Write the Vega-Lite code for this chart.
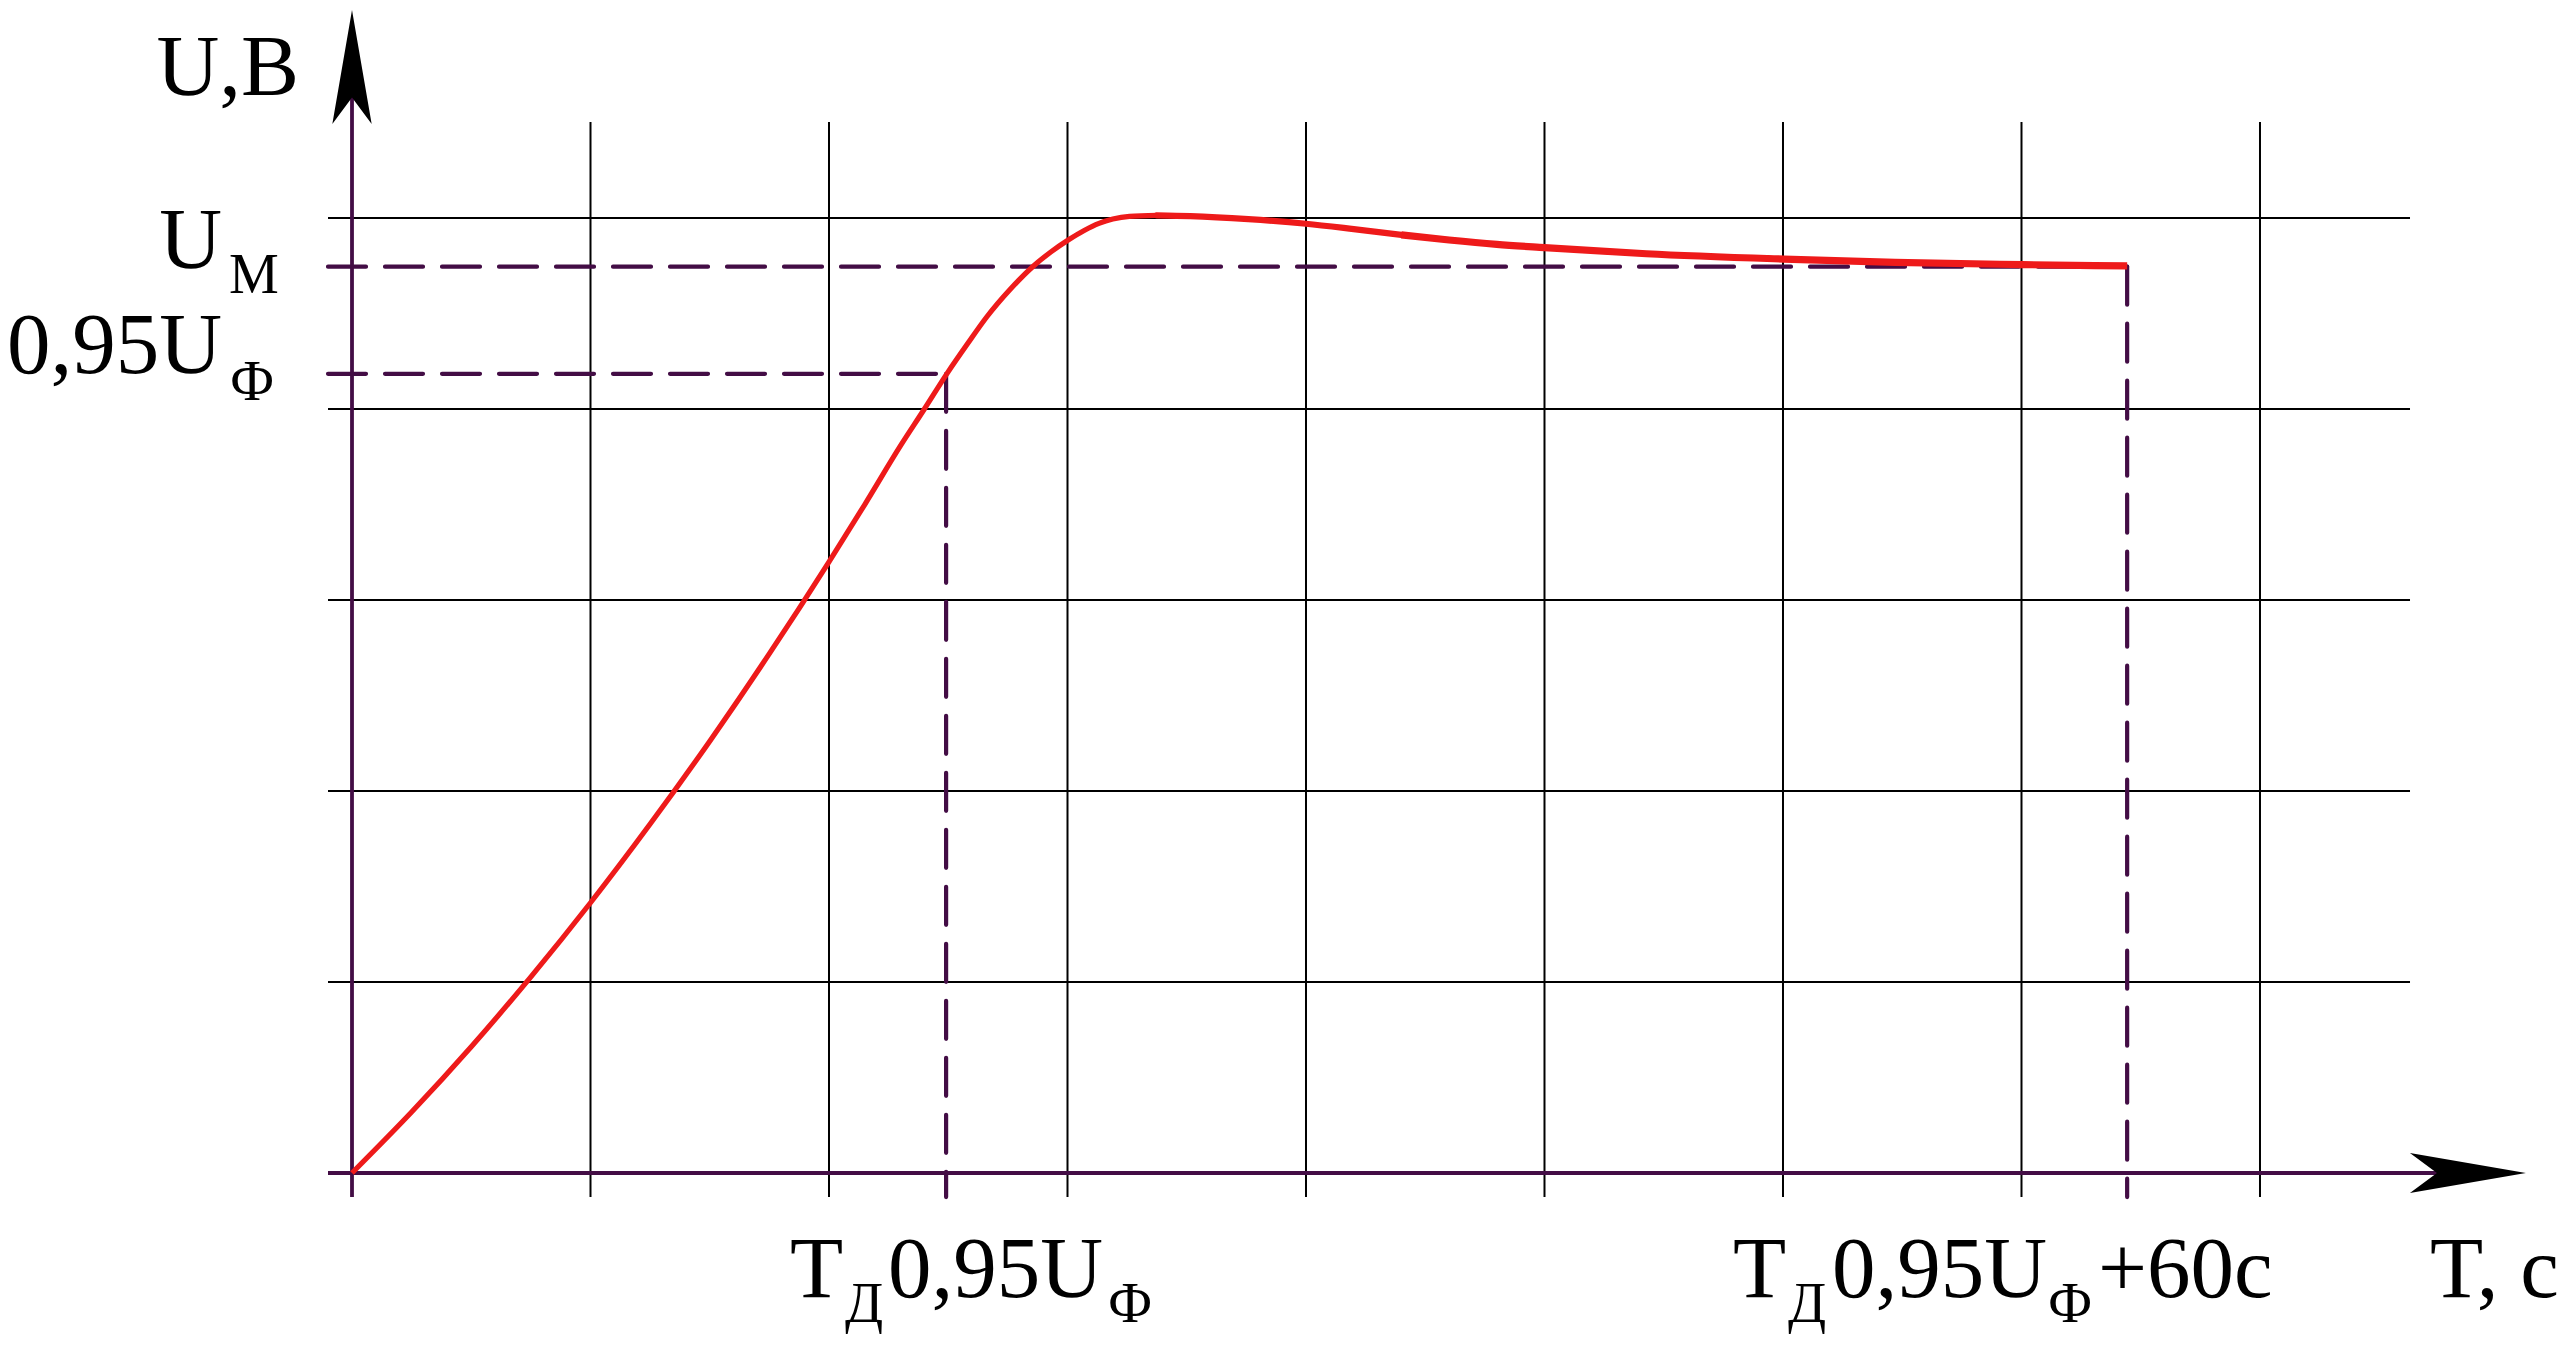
{
  "$schema": "https://vega.github.io/schema/vega-lite/v6.json",
  "width": 2560,
  "height": 1345,
  "autosize": {"type": "none"},
  "padding": 0,
  "background": "white",
  "config": {"view": {"stroke": null}},
  "datasets": {
    "curve": [
      {"x": 0, "y": 0}, {"x": 0.25, "y": 0.319}, {"x": 0.5, "y": 0.661}, {"x": 0.75, "y": 1.027},
      {"x": 1.0, "y": 1.415}, {"x": 1.25, "y": 1.827}, {"x": 1.5, "y": 2.261}, {"x": 1.75, "y": 2.719},
      {"x": 2.0, "y": 3.2}, {"x": 2.15, "y": 3.5}, {"x": 2.3, "y": 3.808}, {"x": 2.4, "y": 4.0},
      {"x": 2.494, "y": 4.184}, {"x": 2.58, "y": 4.34}, {"x": 2.662, "y": 4.483}, {"x": 2.76, "y": 4.627},
      {"x": 2.854, "y": 4.745}, {"x": 2.93, "y": 4.822}, {"x": 3.003, "y": 4.885}, {"x": 3.07, "y": 4.935},
      {"x": 3.132, "y": 4.972}, {"x": 3.19, "y": 4.995}, {"x": 3.26, "y": 5.009}, {"x": 3.375, "y": 5.014},
      {"x": 3.515, "y": 5.01}, {"x": 3.758, "y": 4.994}, {"x": 4.0, "y": 4.97}, {"x": 4.2, "y": 4.942},
      {"x": 4.4, "y": 4.912}, {"x": 4.6, "y": 4.885}, {"x": 4.8, "y": 4.862}, {"x": 5.0, "y": 4.845},
      {"x": 5.427, "y": 4.813}, {"x": 6.004, "y": 4.785}, {"x": 6.47, "y": 4.768}, {"x": 7.005, "y": 4.756},
      {"x": 7.443, "y": 4.749}
    ],
    "hgrid": [{"y": 1}, {"y": 2}, {"y": 3}, {"y": 4}, {"y": 5}],
    "vgrid": [{"x": 1}, {"x": 2}, {"x": 3}, {"x": 4}, {"x": 5}, {"x": 6}, {"x": 7}, {"x": 8}],
    "dash": [
      {"x": -0.1006, "x2": 7.443, "y": 4.745, "y2": 4.745},
      {"x": 7.443, "x2": 7.443, "y": 4.745, "y2": -0.126},
      {"x": -0.1006, "x2": 2.491, "y": 4.184, "y2": 4.184},
      {"x": 2.491, "x2": 2.491, "y": 4.184, "y2": -0.126}
    ],
    "axes": [
      {"x": -0.1006, "x2": 9.0, "y": 0, "y2": 0},
      {"x": 0, "x2": 0, "y": -0.126, "y2": 5.98}
    ],
    "ylabMain": [
      {"x": -0.222, "y": 5.644, "t": "U,В"},
      {"x": -0.545, "y": 4.738, "t": "U"},
      {"x": -0.545, "y": 4.188, "t": "0,95U"}
    ],
    "ylabSub": [
      {"x": -0.516, "y": 4.607, "t": "М"},
      {"x": -0.512, "y": 4.047, "t": "Ф"}
    ],
    "xlabMain": [
      {"x": 1.836, "y": -0.649, "t": "T"},
      {"x": 2.247, "y": -0.649, "t": "0,95U"},
      {"x": 5.79, "y": -0.649, "t": "T"},
      {"x": 6.205, "y": -0.649, "t": "0,95U"},
      {"x": 7.321, "y": -0.649, "t": "+60с"},
      {"x": 8.713, "y": -0.649, "t": "T, с"}
    ],
    "xlabSub": [
      {"x": 2.067, "y": -0.78, "t": "Д"},
      {"x": 3.17, "y": -0.78, "t": "Ф"},
      {"x": 6.021, "y": -0.78, "t": "Д"},
      {"x": 7.111, "y": -0.78, "t": "Ф"}
    ]
  },
  "layer": [
    {
      "data": {"name": "hgrid"},
      "mark": {"type": "rule", "color": "#000000", "strokeWidth": 2},
      "encoding": {
        "y": {"field": "y", "type": "quantitative", "axis": null, "scale": {"domain": [-0.9005, 6.1414], "nice": false, "zero": false}},
        "x": {"datum": -0.1006, "type": "quantitative", "axis": null, "scale": {"domain": [-1.4759, 9.2579], "nice": false, "zero": false}},
        "x2": {"datum": 8.629}
      }
    },
    {
      "data": {"name": "vgrid"},
      "mark": {"type": "rule", "color": "#000000", "strokeWidth": 2},
      "encoding": {
        "x": {"field": "x", "type": "quantitative", "axis": null},
        "y": {"datum": -0.126, "type": "quantitative", "axis": null},
        "y2": {"datum": 5.503}
      }
    },
    {
      "data": {"name": "dash"},
      "mark": {"type": "rule", "color": "#430d45", "strokeWidth": 4.2, "strokeDash": [38, 19], "strokeCap": "round"},
      "encoding": {
        "x": {"field": "x", "type": "quantitative", "axis": null},
        "x2": {"field": "x2"},
        "y": {"field": "y", "type": "quantitative", "axis": null},
        "y2": {"field": "y2"}
      }
    },
    {
      "data": {"name": "axes"},
      "mark": {"type": "rule", "color": "#430d45", "strokeWidth": 3.8},
      "encoding": {
        "x": {"field": "x", "type": "quantitative", "axis": null},
        "x2": {"field": "x2"},
        "y": {"field": "y", "type": "quantitative", "axis": null},
        "y2": {"field": "y2"}
      }
    },
    {
      "data": {"values": [{"x": 9.115, "y": 0}]},
      "mark": {"type": "point", "shape": "M0,0L-2,-0.345L-1.534,0L-2,0.345Z", "size": 13456, "filled": true, "color": "#000000", "opacity": 1, "strokeWidth": 0},
      "encoding": {
        "x": {"field": "x", "type": "quantitative", "axis": null},
        "y": {"field": "y", "type": "quantitative", "axis": null}
      }
    },
    {
      "data": {"values": [{"x": 0, "y": 6.089}]},
      "mark": {"type": "point", "shape": "M0,0L-2,-0.345L-1.534,0L-2,0.345Z", "size": 12996, "angle": 270, "filled": true, "color": "#000000", "opacity": 1, "strokeWidth": 0},
      "encoding": {
        "x": {"field": "x", "type": "quantitative", "axis": null},
        "y": {"field": "y", "type": "quantitative", "axis": null}
      }
    },
    {
      "data": {"name": "curve"},
      "transform": [{"filter": "datum.x <= 3.375"}],
      "mark": {"type": "line", "color": "#ee1a1a", "strokeWidth": 5.2, "interpolate": "monotone", "strokeJoin": "round"},
      "encoding": {
        "x": {"field": "x", "type": "quantitative", "axis": null},
        "y": {"field": "y", "type": "quantitative", "axis": null}
      }
    },
    {
      "data": {"name": "curve"},
      "transform": [{"filter": "datum.x >= 3.375 && datum.x <= 4.4"}],
      "mark": {"type": "line", "color": "#ee1a1a", "strokeWidth": 6.2, "interpolate": "monotone", "strokeJoin": "round", "strokeCap": "round"},
      "encoding": {
        "x": {"field": "x", "type": "quantitative", "axis": null},
        "y": {"field": "y", "type": "quantitative", "axis": null}
      }
    },
    {
      "data": {"name": "curve"},
      "transform": [{"filter": "datum.x >= 4.4"}],
      "mark": {"type": "line", "color": "#ee1a1a", "strokeWidth": 7.2, "interpolate": "monotone", "strokeJoin": "round"},
      "encoding": {
        "x": {"field": "x", "type": "quantitative", "axis": null},
        "y": {"field": "y", "type": "quantitative", "axis": null}
      }
    },
    {
      "data": {"name": "ylabMain"},
      "mark": {"type": "text", "font": "Liberation Serif", "fontSize": 87, "align": "right", "baseline": "alphabetic", "color": "#000000"},
      "encoding": {
        "x": {"field": "x", "type": "quantitative", "axis": null},
        "y": {"field": "y", "type": "quantitative", "axis": null},
        "text": {"field": "t"}
      }
    },
    {
      "data": {"name": "ylabSub"},
      "mark": {"type": "text", "font": "Liberation Serif", "fontSize": 56, "align": "left", "baseline": "alphabetic", "color": "#000000"},
      "encoding": {
        "x": {"field": "x", "type": "quantitative", "axis": null},
        "y": {"field": "y", "type": "quantitative", "axis": null},
        "text": {"field": "t"}
      }
    },
    {
      "data": {"name": "xlabMain"},
      "mark": {"type": "text", "font": "Liberation Serif", "fontSize": 87, "align": "left", "baseline": "alphabetic", "color": "#000000"},
      "encoding": {
        "x": {"field": "x", "type": "quantitative", "axis": null},
        "y": {"field": "y", "type": "quantitative", "axis": null},
        "text": {"field": "t"}
      }
    },
    {
      "data": {"name": "xlabSub"},
      "mark": {"type": "text", "font": "Liberation Serif", "fontSize": 56, "align": "left", "baseline": "alphabetic", "color": "#000000"},
      "encoding": {
        "x": {"field": "x", "type": "quantitative", "axis": null},
        "y": {"field": "y", "type": "quantitative", "axis": null},
        "text": {"field": "t"}
      }
    }
  ]
}
